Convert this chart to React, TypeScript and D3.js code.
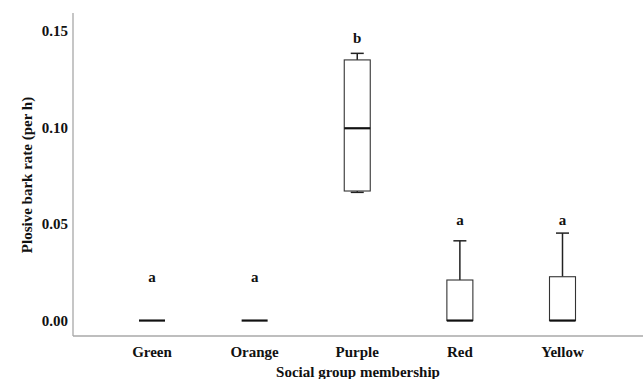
import React from "react";
import * as d3 from "d3";

const groups = ["Green", "Orange", "Purple", "Red", "Yellow"];
const whiskerLow = [0, 0, 0.0664, 0, 0];
const q1 = [0, 0, 0.0671, 0, 0];
const median = [0, 0, 0.0996, 0, 0];
const q3 = [0, 0, 0.135, 0.021, 0.0227];
const whiskerHigh = [0, 0, 0.1384, 0.0413, 0.0453];
const letters = ["a", "a", "b", "a", "a"];
const letterAt = [0.0225, 0.0225, 0.1465, 0.052, 0.052];
const yTicks = [0, 0.05, 0.1, 0.15];

const W = 643;
const H = 379;

const textStyle: React.CSSProperties = {
  fontFamily: "Liberation Serif",
  fontWeight: 700,
  fontSize: 15,
};

export default function App() {
  const y = d3.scaleLinear().domain([-0.008, 0.1593]).range([336, 13]);
  const x = d3.scalePoint<string>().domain(groups).range([152, 562.5]);
  const boxW = 26;
  const capW = 13;
  const axisX = 73;
  const axisY = 336;

  return (
    <svg
      width={W}
      height={H}
      style={{ position: "absolute", left: 0, top: 0, background: "#fff" }}
    >
      {/* axes */}
      <line x1={axisX} x2={axisX} y1={13} y2={axisY} stroke="#a8a8a8" strokeWidth={1.3} />
      <line x1={axisX} x2={W} y1={axisY} y2={axisY} stroke="#a8a8a8" strokeWidth={1.3} />

      {yTicks.map((t) => (
        <text key={t} x={68} y={y(t)} dy="0.35em" textAnchor="end" fill="#111" style={textStyle}>
          {d3.format(".2f")(t)}
        </text>
      ))}

      {groups.map((g) => (
        <text key={g} x={x(g)} y={357} textAnchor="middle" fill="#111" style={textStyle}>
          {g}
        </text>
      ))}

      <text x={358} y={377} textAnchor="middle" fill="#111" style={textStyle}>
        Social group membership
      </text>
      <text
        transform={`translate(32,175) rotate(-90)`}
        textAnchor="middle"
        fill="#111"
        style={textStyle}
      >
        Plosive bark rate (per h)
      </text>

      {/* boxes */}
      {groups.map((g, i) => {
        const cx = x(g) as number;
        const hasBox = q3[i] > q1[i];
        return (
          <g key={g}>
            {whiskerHigh[i] > q3[i] && (
              <>
                <line x1={cx} x2={cx} y1={y(q3[i])} y2={y(whiskerHigh[i])} stroke="#222" strokeWidth={1.5} />
                <line x1={cx - capW / 2} x2={cx + capW / 2} y1={y(whiskerHigh[i])} y2={y(whiskerHigh[i])} stroke="#222" strokeWidth={1.5} />
              </>
            )}
            {whiskerLow[i] < q1[i] && (
              <>
                <line x1={cx} x2={cx} y1={y(q1[i])} y2={y(whiskerLow[i])} stroke="#222" strokeWidth={1.5} />
                <line x1={cx - capW / 2} x2={cx + capW / 2} y1={y(whiskerLow[i])} y2={y(whiskerLow[i])} stroke="#222" strokeWidth={1.5} />
              </>
            )}
            {hasBox && (
              <rect
                x={cx - boxW / 2}
                y={y(q3[i])}
                width={boxW}
                height={y(q1[i]) - y(q3[i])}
                fill="#fff"
                stroke="#333"
                strokeWidth={1.1}
              />
            )}
            <line
              x1={cx - boxW / 2}
              x2={cx + boxW / 2}
              y1={y(median[i])}
              y2={y(median[i])}
              stroke="#111"
              strokeWidth={2.2}
            />
            <text x={cx} y={y(letterAt[i])} dy="0.35em" textAnchor="middle" fill="#111" style={textStyle}>
              {letters[i]}
            </text>
          </g>
        );
      })}
    </svg>
  );
}
